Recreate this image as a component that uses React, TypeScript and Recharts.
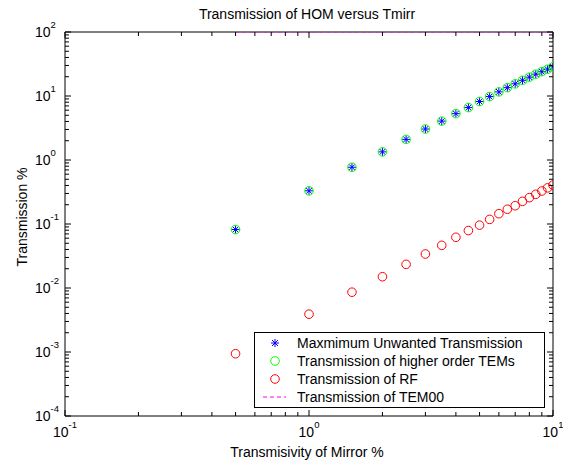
import React from 'react';
import { ScatterChart, Scatter, XAxis, YAxis, Legend } from 'recharts';

// Mirror transmissivity (%) at which each transmission was evaluated
const transmisivity = [0.5, 1, 1.5, 2, 2.5, 3, 3.5, 4, 4.5, 5, 5.5, 6, 6.5, 7, 7.5, 8, 8.5, 9, 9.5, 10];

// Transmission (%) of each component
const maxUnwanted = [
  0.082, 0.33, 0.77, 1.34, 2.1, 3.05, 4.05, 5.3, 6.6, 8.2,
  9.8, 11.6, 13.5, 15.5, 17.6, 19.7, 21.9, 24.0, 26.2, 28.6,
];
const higherOrderTEMs = [
  0.082, 0.33, 0.77, 1.34, 2.1, 3.05, 4.05, 5.3, 6.6, 8.2,
  9.8, 11.6, 13.5, 15.5, 17.6, 19.7, 21.9, 24.0, 26.2, 28.6,
];
const rfTransmission = [
  0.00094, 0.0039, 0.0086, 0.015, 0.0234, 0.034, 0.0464, 0.062, 0.079, 0.096,
  0.118, 0.145, 0.17, 0.193, 0.226, 0.258, 0.291, 0.328, 0.367, 0.405,
];
const tem00Transmission = [
  100, 100, 100, 100, 100, 100, 100, 100, 100, 100,
  100, 100, 100, 100, 100, 100, 100, 100, 100, 100,
];

// Log axes: decades plus the 2..9 minor ticks in between
const xDecades = [0.1, 1];
const yDecades = [1e-4, 1e-3, 1e-2, 1e-1, 1, 10];
const minorSteps = [1, 2, 3, 4, 5, 6, 7, 8, 9];
const xTicks = [...xDecades.flatMap((d) => minorSteps.map((m) => m * d)), 10];
const yTicks = [...yDecades.flatMap((d) => minorSteps.map((m) => m * d)), 100];

const FONT = '"Liberation Sans", Arial, Helvetica, sans-serif';
const INK = '#000';
const MAJOR = 6;
const MINOR = 4;

const toPoints = (ys: number[]) => transmisivity.map((x, i) => ({ x, y: ys[i] }));

const isDecade = (v: number) => {
  const e = Math.log10(v);
  return Math.abs(e - Math.round(e)) < 1e-6;
};
const expOf = (v: number) => Math.round(Math.log10(v));
const tickLen = (v: number) => (isDecade(v) ? MAJOR : MINOR);

const BottomTick = (props: any) => {
  const { x, y, payload } = props;
  const v = payload.value;
  return (
    <g>
      <line x1={x} y1={y} x2={x} y2={y - tickLen(v)} stroke={INK} strokeWidth={1} />
      {isDecade(v) && (
        <text x={x} y={y + 21} textAnchor="middle" fontFamily={FONT} fontSize={14} fill={INK}>
          10<tspan dy={-9} fontSize={9.5}>{expOf(v)}</tspan>
        </text>
      )}
    </g>
  );
};

const TopTick = (props: any) => {
  const { x, y, payload } = props;
  return (
    <g>
      <line x1={x} y1={y} x2={x} y2={y + tickLen(payload.value)} stroke={INK} strokeWidth={1} />
    </g>
  );
};

const LeftTick = (props: any) => {
  const { x, y, payload } = props;
  const v = payload.value;
  return (
    <g>
      <line x1={x} y1={y} x2={x + tickLen(v)} y2={y} stroke={INK} strokeWidth={1} />
      {isDecade(v) && (
        <text x={x - 30} y={y + 5} textAnchor="start" fontFamily={FONT} fontSize={14} fill={INK}>
          10<tspan dy={-9} fontSize={9.5}>{expOf(v)}</tspan>
        </text>
      )}
    </g>
  );
};

const RightTick = (props: any) => {
  const { x, y, payload } = props;
  return (
    <g>
      <line x1={x} y1={y} x2={x - tickLen(payload.value)} y2={y} stroke={INK} strokeWidth={1} />
    </g>
  );
};

// markers
const Star = ({ cx, cy, color = '#0000ff' }: any) => (
  <g stroke={color} strokeWidth={1}>
    <line x1={cx - 4} x2={cx + 4} y1={cy} y2={cy} />
    <line x1={cx} x2={cx} y1={cy - 4} y2={cy + 4} />
    <line x1={cx - 3} x2={cx + 3} y1={cy - 3} y2={cy + 3} />
    <line x1={cx - 3} x2={cx + 3} y1={cy + 3} y2={cy - 3} />
  </g>
);

const Ring = ({ cx, cy, color }: any) => (
  <circle cx={cx} cy={cy} r={4.3} fill="none" stroke={color} strokeWidth={1} />
);

const series = [
  { name: 'Maxmimum Unwanted Transmission', data: toPoints(maxUnwanted), color: '#0000ff', kind: 'star' },
  { name: 'Transmission of higher order TEMs', data: toPoints(higherOrderTEMs), color: '#00ff00', kind: 'ring' },
  { name: 'Transmission of RF', data: toPoints(rfTransmission), color: '#ff0000', kind: 'ring' },
  { name: 'Transmission of TEM00', data: toPoints(tem00Transmission), color: '#ff00ff', kind: 'dash' },
];

const LegendMarker = ({ kind, color }: any) => {
  if (kind === 'star') return <Star cx={20} cy={9} color={color} />;
  if (kind === 'ring') return <Ring cx={20} cy={9} color={color} />;
  return <line x1={8} x2={31} y1={9} y2={9} stroke={color} strokeDasharray="4 3" />;
};

const LegendBox = () => (
  <div
    style={{
      width: 291,
      height: 76,
      boxSizing: 'border-box',
      border: `1px solid ${INK}`,
      background: '#fff',
      paddingTop: 1,
      fontFamily: FONT,
      fontSize: 14,
      color: INK,
    }}
  >
    {series.map((s) => (
      <div key={s.name} style={{ display: 'flex', alignItems: 'center', height: 18 }}>
        <svg width={42} height={18} style={{ flex: 'none' }}>
          <LegendMarker kind={s.kind} color={s.color} />
        </svg>
        <span style={{ whiteSpace: 'nowrap' }}>{s.name}</span>
      </div>
    ))}
  </div>
);

const titleLabel = (props: any) => {
  const vb = props.viewBox || { x: 65, y: 0, width: 488, height: 32 };
  return (
    <text x={vb.x + vb.width / 2 - 2} y={19} textAnchor="middle" fontFamily={FONT} fontSize={14} fill={INK}>
      Transmission of HOM versus Tmirr
    </text>
  );
};

const xLabel = (props: any) => {
  const vb = props.viewBox || { x: 65, y: 416, width: 488, height: 48 };
  return (
    <text x={vb.x + vb.width / 2 - 2} y={vb.y + 41} textAnchor="middle" fontFamily={FONT} fontSize={14} fill={INK}>
      Transmisivity of Mirror %
    </text>
  );
};

const yLabel = (props: any) => {
  const vb = props.viewBox || { x: 0, y: 32, width: 65, height: 384 };
  const cx = vb.x + 27;
  const cy = vb.y + vb.height / 2 - 7;
  return (
    <text x={cx} y={cy} transform={`rotate(-90 ${cx} ${cy})`} textAnchor="middle" fontFamily={FONT} fontSize={14} fill={INK}>
      Transmission %
    </text>
  );
};

export default function App() {
  return (
    <div style={{ position: 'absolute', left: 0, top: 0, width: 563, height: 464, background: '#fff' }}>
      <ScatterChart width={563} height={464} margin={{ top: 0, right: 0, bottom: 0, left: 0 }}>
        <XAxis
          dataKey="x"
          type="number"
          scale="log"
          domain={[0.1, 10]}
          allowDataOverflow
          ticks={xTicks}
          interval={0}
          height={48}
          tickSize={0}
          tickMargin={0}
          tickLine={false}
          tick={BottomTick}
          axisLine={{ stroke: INK }}
          label={xLabel}
        />
        <XAxis
          xAxisId="top"
          dataKey="x"
          orientation="top"
          type="number"
          scale="log"
          domain={[0.1, 10]}
          allowDataOverflow
          ticks={xTicks}
          interval={0}
          height={32}
          tickSize={0}
          tickMargin={0}
          tickLine={false}
          tick={TopTick}
          axisLine={{ stroke: INK }}
          label={titleLabel}
        />
        <YAxis
          dataKey="y"
          type="number"
          scale="log"
          domain={[1e-4, 100]}
          allowDataOverflow
          ticks={yTicks}
          interval={0}
          width={65}
          tickSize={0}
          tickMargin={0}
          tickLine={false}
          tick={LeftTick}
          axisLine={{ stroke: INK }}
          label={yLabel}
        />
        <YAxis
          yAxisId="right"
          dataKey="y"
          orientation="right"
          type="number"
          scale="log"
          domain={[1e-4, 100]}
          allowDataOverflow
          ticks={yTicks}
          interval={0}
          width={10}
          tickSize={0}
          tickMargin={0}
          tickLine={false}
          tick={RightTick}
          axisLine={{ stroke: INK }}
        />
        {series.map((s) =>
          s.kind === 'dash' ? (
            // TEM00 sits on the top/right axis pair (same log domains) so those axes get drawn
            <Scatter
              key={s.name}
              name={s.name}
              data={s.data}
              xAxisId="top"
              yAxisId="right"
              fill={s.color}
              line={{ stroke: s.color, strokeWidth: 1, strokeDasharray: '4 3' }}
              shape={() => <g />}
              isAnimationActive={false}
            />
          ) : (
            <Scatter
              key={s.name}
              name={s.name}
              data={s.data}
              fill={s.color}
              shape={(p: any) =>
                s.kind === 'star' ? <Star cx={p.cx} cy={p.cy} color={s.color} /> : <Ring cx={p.cx} cy={p.cy} color={s.color} />
              }
              isAnimationActive={false}
            />
          )
        )}
        <Legend
          layout="vertical"
          align="center"
          verticalAlign="middle"
          content={LegendBox}
          wrapperStyle={{ left: 254, top: 332, width: 291, height: 76 }}
        />
      </ScatterChart>
    </div>
  );
}
